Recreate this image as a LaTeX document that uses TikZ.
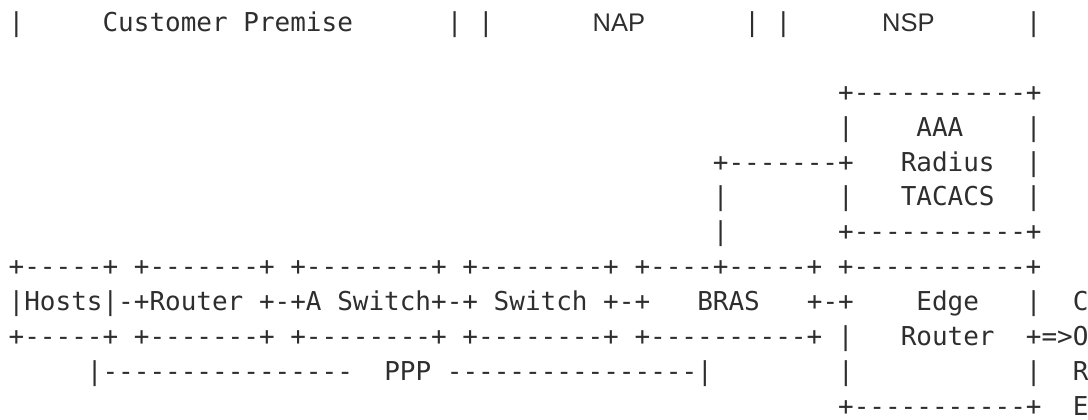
\documentclass[tikz,border=0pt]{standalone}
\usepackage{fontspec}
\newfontfamily\asciifont{DejaVu Sans Mono}[Ligatures=TeXOff]
\newfontfamily\zonefont{Liberation Sans}
\definecolor{ink}{HTML}{2E2E2E}
\tikzset{
  ascii/.style={font=\asciifont\fontsize{25.99}{30}\selectfont, text=ink, inner sep=0pt, anchor=base west},
  zone/.style={font=\zonefont\fontsize{25.5}{28}\selectfont, text=ink, inner sep=0pt, anchor=base},
}

\begin{document}
\begin{tikzpicture}[x=15.65pt, y=-34.9pt]
    \useasboundingbox (-8.5pt,31.5pt) rectangle (1079.5pt,-388.5pt);
    % zones
    \node[ascii] (bar0) at (0,0) {|};
    \node[ascii] (cpe) at (6,0) {Customer Premise};
    \node[ascii] (bar1) at (28,0) {|};
    \node[ascii] (bar2) at (30,0) {|};
    \node[zone] (nap) at (39,0) {NAP};
    \node[ascii] (bar3) at (47,0) {|};
    \node[ascii] (bar4) at (49,0) {|};
    \node[zone] (nsp) at (57.5,0) {NSP};
    \node[ascii] (bar5) at (65,0) {|};
    % AAA server
    \node[ascii] (aaatop) at (53,2) {+-----------+};
    \node[ascii] (aaal) at (53,3) {|};
    \node[ascii] (aaa) at (58,3) {AAA};
    \node[ascii] (aaar) at (65,3) {|};
    \node[ascii] (link) at (45,4) {+-------+};
    \node[ascii] (radius) at (57,4) {Radius};
    \node[ascii] (radr) at (65,4) {|};
    \node[ascii] (linkl) at (45,5) {|};
    \node[ascii] (tacl) at (53,5) {|};
    \node[ascii] (tacacs) at (57,5) {TACACS};
    \node[ascii] (tacr) at (65,5) {|};
    \node[ascii] (linkd) at (45,6) {|};
    \node[ascii] (aaabot) at (53,6) {+-----------+};
    % access chain
    \node[ascii] (chaintop) at (0,7) {+-----+ +-------+ +--------+ +--------+ +----+-----+ +-----------+};
    \node[ascii] (chain) at (0,8) {|Hosts|-+Router +-+A Switch+-+ Switch +-+};
    \node[ascii] (bras) at (44,8) {BRAS};
    \node[ascii] (brasedge) at (51,8) {+-+};
    \node[ascii] (edge) at (58,8) {Edge};
    \node[ascii] (edger) at (65,8) {|};
    \node[ascii] (core1) at (68,8) {C};
    \node[ascii] (chainbot) at (0,9) {+-----+ +-------+ +--------+ +--------+ +----------+ |};
    \node[ascii] (router) at (57,9) {Router};
    \node[ascii] (uplink) at (65,9) {+=>O};
    % PPP session
    \node[ascii] (pppl) at (5,10) {|----------------};
    \node[ascii] (ppp) at (24,10) {PPP ----------------|};
    \node[ascii] (edgel) at (53,10) {|};
    \node[ascii] (edgerr) at (65,10) {|};
    \node[ascii] (core3) at (68,10) {R};
    \node[ascii] (edgebot) at (53,11) {+-----------+};
    \node[ascii] (core4) at (68,11) {E};
\end{tikzpicture}
\end{document}
